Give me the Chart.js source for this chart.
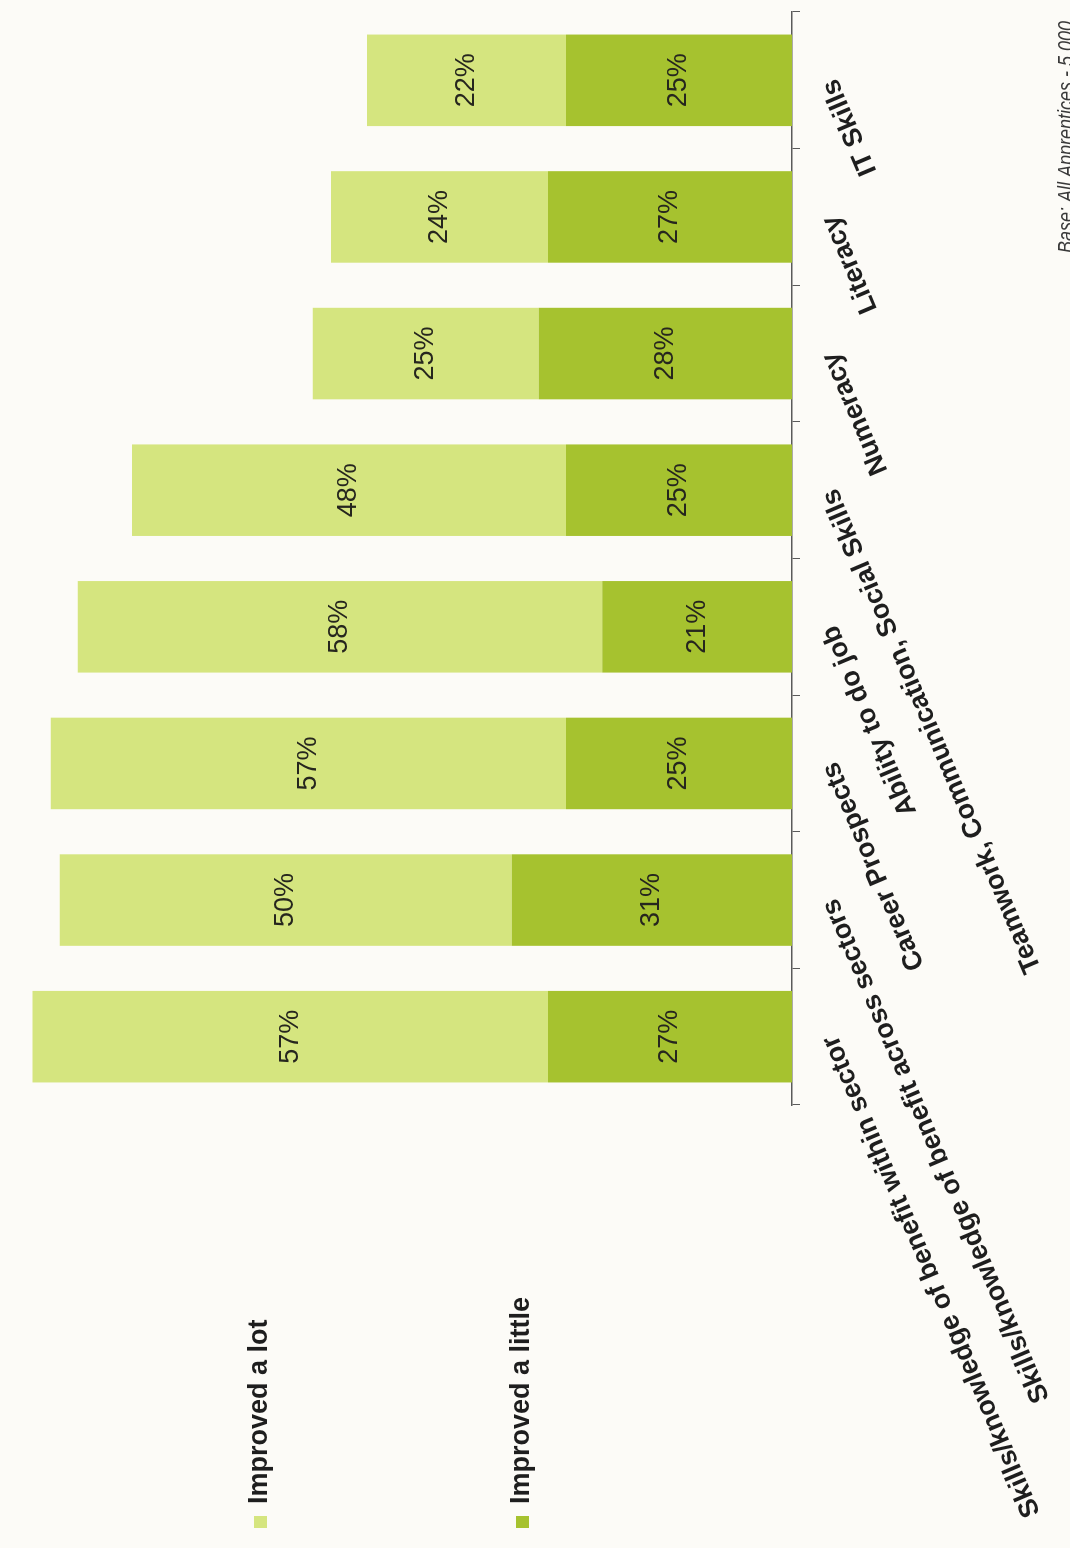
<!DOCTYPE html>
<html>
<head>
<meta charset="utf-8">
<title>Skills improved during the apprenticeship</title>
<script src="https://cdn.jsdelivr.net/npm/chart.js@4.4.1/dist/chart.umd.min.js"></script>
<style>
  html, body { margin: 0; padding: 0; background: #fcfbf7; overflow: hidden; }
  /* the chart is laid out landscape and turned a quarter turn to fit the portrait page */
  #page {
    position: absolute; left: 0; top: 0;
    width: 1548px; height: 1070px;
    transform-origin: 0 0;
    transform: translateY(1548px) rotate(-90deg);
    background: #fcfbf7;
  }
</style>
</head>
<body>
<div id="page"><canvas id="skillsChart" width="1548" height="1070"></canvas></div>
<script>
const categories = [
    'Skills/knowledge of benefit within sector',
    'Skills/knowledge of benefit across sectors',
    'Career Prospects',
    'Ability to do job',
    'Teamwork, Communication, Social Skills',
    'Numeracy',
    'Literacy',
    'IT Skills'
];
const improvedALittle = [27, 31, 25, 21, 25, 28, 27, 25];
const improvedALot = [57, 50, 57, 58, 48, 25, 24, 22];
const seriesNames = ['Improved a little', 'Improved a lot'];
const baseNote = 'Base: All Apprentices - 5,000';

const darkGreen = '#a6c22f';
const lightGreen = '#d5e57f';

// percentage written in the middle of every bar segment
const segmentLabels = {
    id: 'segmentLabels',
    afterDatasetsDraw(chart) {
        const ctx = chart.ctx;
        ctx.save();
        ctx.font = '27px "Liberation Sans Narrow", "Liberation Sans", sans-serif';
        ctx.fillStyle = '#26261e';
        ctx.textAlign = 'center';
        ctx.textBaseline = 'middle';
        chart.data.datasets.forEach((ds, i) => {
            chart.getDatasetMeta(i).data.forEach((bar, j) => {
                const { x, y, base } = bar.getProps(['x', 'y', 'base'], true);
                ctx.fillText(ds.data[j] + '%', x, (y + base) / 2);
            });
        });
        ctx.restore();
    }
};

// legend on the left, one entry per row, plus the base note in the corner
const sideLegend = {
    id: 'sideLegend',
    afterDraw(chart) {
        const ctx = chart.ctx;
        const rows = [
            { ds: 1, y: 260 },
            { ds: 0, y: 522 }
        ];
        ctx.save();
        rows.forEach(r => {
            const ds = chart.data.datasets[r.ds];
            ctx.fillStyle = ds.backgroundColor;
            ctx.fillRect(20, r.y - 6, 12, 13);
            ctx.fillStyle = '#1e1e1e';
            ctx.font = 'bold 27px "Liberation Sans", Arial, sans-serif';
            ctx.textAlign = 'left';
            ctx.textBaseline = 'middle';
            ctx.fillText(ds.label, 44, r.y);
        });

        ctx.translate(1295, 1073);
        ctx.scale(1, 1.25);
        ctx.font = 'italic 18px "Liberation Sans", Arial, sans-serif';
        ctx.fillStyle = '#3a3a3a';
        ctx.textBaseline = 'alphabetic';
        ctx.fillText(baseNote, 0, 0);
        ctx.restore();
    }
};

const ctx = document.getElementById('skillsChart').getContext('2d');

new Chart(ctx, {
    type: 'bar',
    data: {
        labels: categories,
        datasets: [
            {
                label: seriesNames[0],
                data: improvedALittle,
                backgroundColor: darkGreen,
                borderWidth: 0
            },
            {
                label: seriesNames[1],
                data: improvedALot,
                backgroundColor: lightGreen,
                borderWidth: 0
            }
        ]
    },
    options: {
        responsive: false,
        animation: false,
        devicePixelRatio: 1,
        barPercentage: 0.67,
        categoryPercentage: 1,
        layout: {
            padding: { left: 443, right: 12, top: 0, bottom: 0 }
        },
        plugins: {
            legend: { display: false },
            tooltip: { enabled: false }
        },
        scales: {
            x: {
                stacked: true,
                grid: {
                    display: true,
                    drawOnChartArea: false,
                    drawTicks: true,
                    tickLength: 8,
                    color: '#5a5a5a',
                    offset: true
                },
                border: { display: true, color: '#5a5a5a', width: 1.5 },
                ticks: {
                    autoSkip: false,
                    minRotation: 23,
                    maxRotation: 23,
                    padding: 15,
                    color: '#1e1e1e',
                    font: { family: '"Liberation Sans", Arial, sans-serif', size: 27, weight: 'bold' }
                },
                afterFit(scale) {
                    scale.height = 1070 - 792;
                    scale.paddingLeft = 0;
                    scale.paddingRight = 0;
                }
            },
            y: {
                stacked: true,
                display: false,
                min: 0,
                max: 87.6
            }
        }
    },
    plugins: [segmentLabels, sideLegend]
});
</script>
</body>
</html>
